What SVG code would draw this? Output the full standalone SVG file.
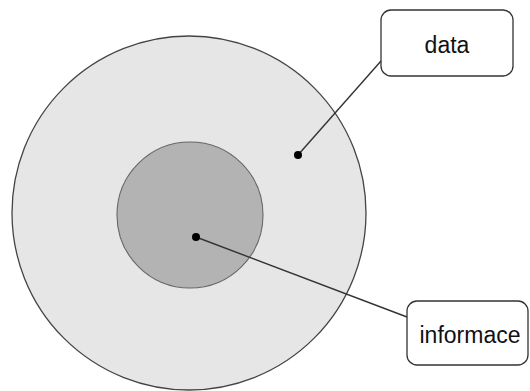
<svg xmlns="http://www.w3.org/2000/svg" width="530" height="391" viewBox="0 0 530 391">
  <style>
    .box { fill: #ffffff; stroke: #333333; stroke-width: 1.3; }
    .label { font-family: "Liberation Sans", Arial, sans-serif; font-size: 23px; fill: #111111; text-anchor: middle; }
    .link { stroke: #333333; stroke-width: 1.4; fill: none; }
    .dot { fill: #000000; }
  </style>
  <rect width="530" height="391" fill="#ffffff"/>
  <g id="outer-circle">
    <circle cx="189" cy="213" r="177" fill="#e6e6e6" stroke="#444444" stroke-width="1.3"/>
  </g>
  <g id="inner-circle">
    <circle cx="190" cy="215" r="73" fill="#b3b3b3" stroke="#666666" stroke-width="1.1"/>
  </g>
  <g id="data">
    <rect class="box" x="381" y="10" width="132" height="66" rx="10"/>
    <text class="label" x="447" y="53">data</text>
  </g>
  <g id="informace">
    <rect class="box" x="407" y="301" width="121" height="64" rx="10"/>
    <text class="label" x="470" y="343">informace</text>
  </g>
  <g id="connectors">
    <line class="link" x1="298" y1="155" x2="381" y2="61"/>
    <line class="link" x1="196" y1="237" x2="407" y2="317"/>
    <circle class="dot" cx="298" cy="155" r="4"/>
    <circle class="dot" cx="196" cy="237" r="4"/>
  </g>
</svg>
